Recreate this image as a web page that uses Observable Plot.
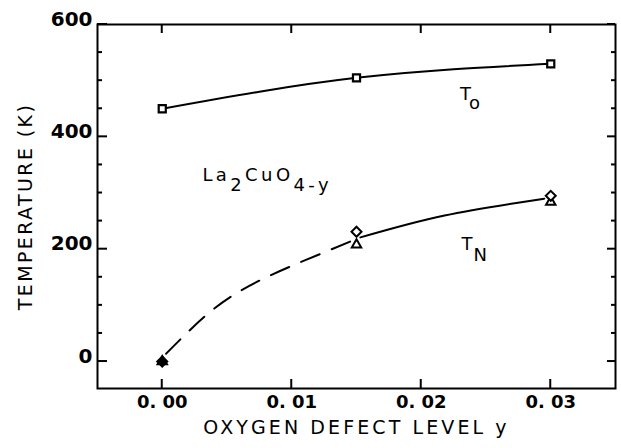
<!DOCTYPE html>
<html><head><meta charset="utf-8">
<script src="https://cdn.jsdelivr.net/npm/d3@7"></script>
<script src="https://cdn.jsdelivr.net/npm/@observablehq/plot@0.6"></script>
<style>body{margin:0;background:#fff}</style>
</head><body><div id="chart"></div>
<script>
// ---- data ----
const defectLevels = [0.00, 0.015, 0.03];
const tOrder = [450, 505, 530];            // T_o (squares)
const tNeelDiamond = [0, 231, 295];        // T_N (diamonds)
const tNeelTriangle = [0, 208, 284];       // T_N (triangles)
const tnDashX = [0.0003, 0.004, 0.0075, 0.011, 0.0153];
const tnDashT = [14, 94, 144, 180, 221];
const tnSolidX = [0.0153, 0.0218, 0.0295];
const tnSolidT = [221, 260, 290];
const xTicks = [0, 0.01, 0.02, 0.03];
const xTickLabels = ["0. 00", "0. 01", "0. 02", "0. 03"];
const yMajor = [0, 200, 400, 600];
const yTickLabels = ["0", "200", "400", "600"];
const yMinor = [50, 100, 150, 250, 300, 350, 450, 500, 550];
const xTitle = "OXYGEN DEFECT LEVEL y";
const yTitle = "TEMPERATURE (K)";
// annotations: pieces alternate normal / subscript
const annotParts = [["T", "o"], ["T", "N"], ["La", "2", "CuO", "4-y"]];
const annotX = [0.0230, 0.0231, 0.0031];
const annotY = [476, 209, 331];
const annotSubShift = [9, 11, 10];
const annotSpacing = ["1px", "1px", "3.4px"];

// layout
const W = 621, H = 448, mL = 97, mR = 6, mT = 24, mB = 60;

const plot = Plot.plot({
  width: W, height: H,
  marginLeft: mL, marginRight: mR, marginTop: mT, marginBottom: mB,
  x: {domain: [-0.005, 0.035], axis: null},
  y: {domain: [-48, 600], axis: null},
  style: {fontFamily: "DejaVu Sans", background: "#fff", color: "black"},
  marks: [
    Plot.frame({stroke: "black", strokeWidth: 2}),
    Plot.text(yMajor, {y: d => d, text: (d, i) => yTickLabels[i], frameAnchor: "left",
      textAnchor: "end", lineAnchor: "bottom", dx: -5, dy: 1, fontSize: 20, fontWeight: "bold"}),
    Plot.text(xTicks, {x: d => d, text: (d, i) => xTickLabels[i], frameAnchor: "bottom",
      textAnchor: "middle", lineAnchor: "middle", dy: 14, fontSize: 18, fontWeight: "bold"}),
    Plot.text([xTitle], {frameAnchor: "bottom", textAnchor: "middle", lineAnchor: "middle", dy: 39, fontSize: 19}),
    Plot.text([yTitle], {frameAnchor: "left", textAnchor: "middle", lineAnchor: "middle", dx: -72, rotate: -90, fontSize: 19}),
    Plot.line(defectLevels, {x: d => d, y: (d, i) => tOrder[i], curve: "natural", stroke: "black", strokeWidth: 2}),
    Plot.line(tnDashX, {x: d => d, y: (d, i) => tnDashT[i], curve: "natural", stroke: "black", strokeWidth: 2, strokeDasharray: "20,13"}),
    Plot.line(tnSolidX, {x: d => d, y: (d, i) => tnSolidT[i], curve: "natural", stroke: "black", strokeWidth: 2}),
    Plot.dot(defectLevels, {x: d => d, y: (d, i) => tOrder[i], symbol: "square", r: 4, stroke: "black", strokeWidth: 2.2, fill: "white"}),
    Plot.dot(defectLevels, {x: d => d, y: (d, i) => tNeelTriangle[i], symbol: "triangle2", r: 4.5, stroke: "black", strokeWidth: 2, fill: (d, i) => i === 0 ? "black" : "white"}),
    Plot.dot(defectLevels, {x: d => d, y: (d, i) => tNeelDiamond[i], symbol: "diamond2", r: 4.5, stroke: "black", strokeWidth: 2, fill: (d, i) => i === 0 ? "black" : "white"}),
    Plot.text(annotParts, {x: (d, i) => annotX[i], y: (d, i) => annotY[i], text: d => d.join(""),
      textAnchor: "start", lineAnchor: "middle", fontSize: 18})
  ]
});
document.getElementById("chart").appendChild(plot);

// rebuild annotations with subscripts
const allTexts = Array.from(plot.querySelectorAll("text"));
annotParts.forEach((parts, i) => {
  const el = allTexts.find(e => e.textContent === parts.join(""));
  if (!el) return;
  const t = d3.select(el);
  t.text(null).style("letter-spacing", annotSpacing[i]);
  parts.forEach((p, j) => {
    const sp = t.append("tspan").text(p);
    if (j > 0) sp.attr("dy", j % 2 === 1 ? annotSubShift[i] : -annotSubShift[i]);
  });
});
allTexts.forEach(el => {
  if (el.textContent === xTitle) el.style.letterSpacing = "3.1px";
  if (el.textContent === yTitle) el.style.letterSpacing = "2.4px";
});

// inward frame ticks, positioned with the plot's own x and y scales
try {
  const sx = plot.scale("x"), sy = plot.scale("y");
  const left = mL, right = W - mR, top = mT, bottom = H - mB;
  const g = d3.select(plot).append("g").attr("stroke", "black").attr("stroke-width", 2)
    .attr("aria-label", "frame ticks");
  const hTick = (v, x0, len) => { const y = sy.apply(v); g.append("line").attr("x1", x0).attr("x2", x0 + len).attr("y1", y).attr("y2", y); };
  const vTick = (v, y0, len) => { const x = sx.apply(v); g.append("line").attr("x1", x).attr("x2", x).attr("y1", y0).attr("y2", y0 + len); };
  yMajor.forEach(v => { hTick(v, left, 10); hTick(v, right, -8); });
  yMinor.forEach(v => { hTick(v, left, 5); hTick(v, right, -4); });
  xTicks.forEach(v => { vTick(v, bottom, -9); vTick(v, top, 9); });
} catch (e) { console.error(e); }
</script>
</body></html>
